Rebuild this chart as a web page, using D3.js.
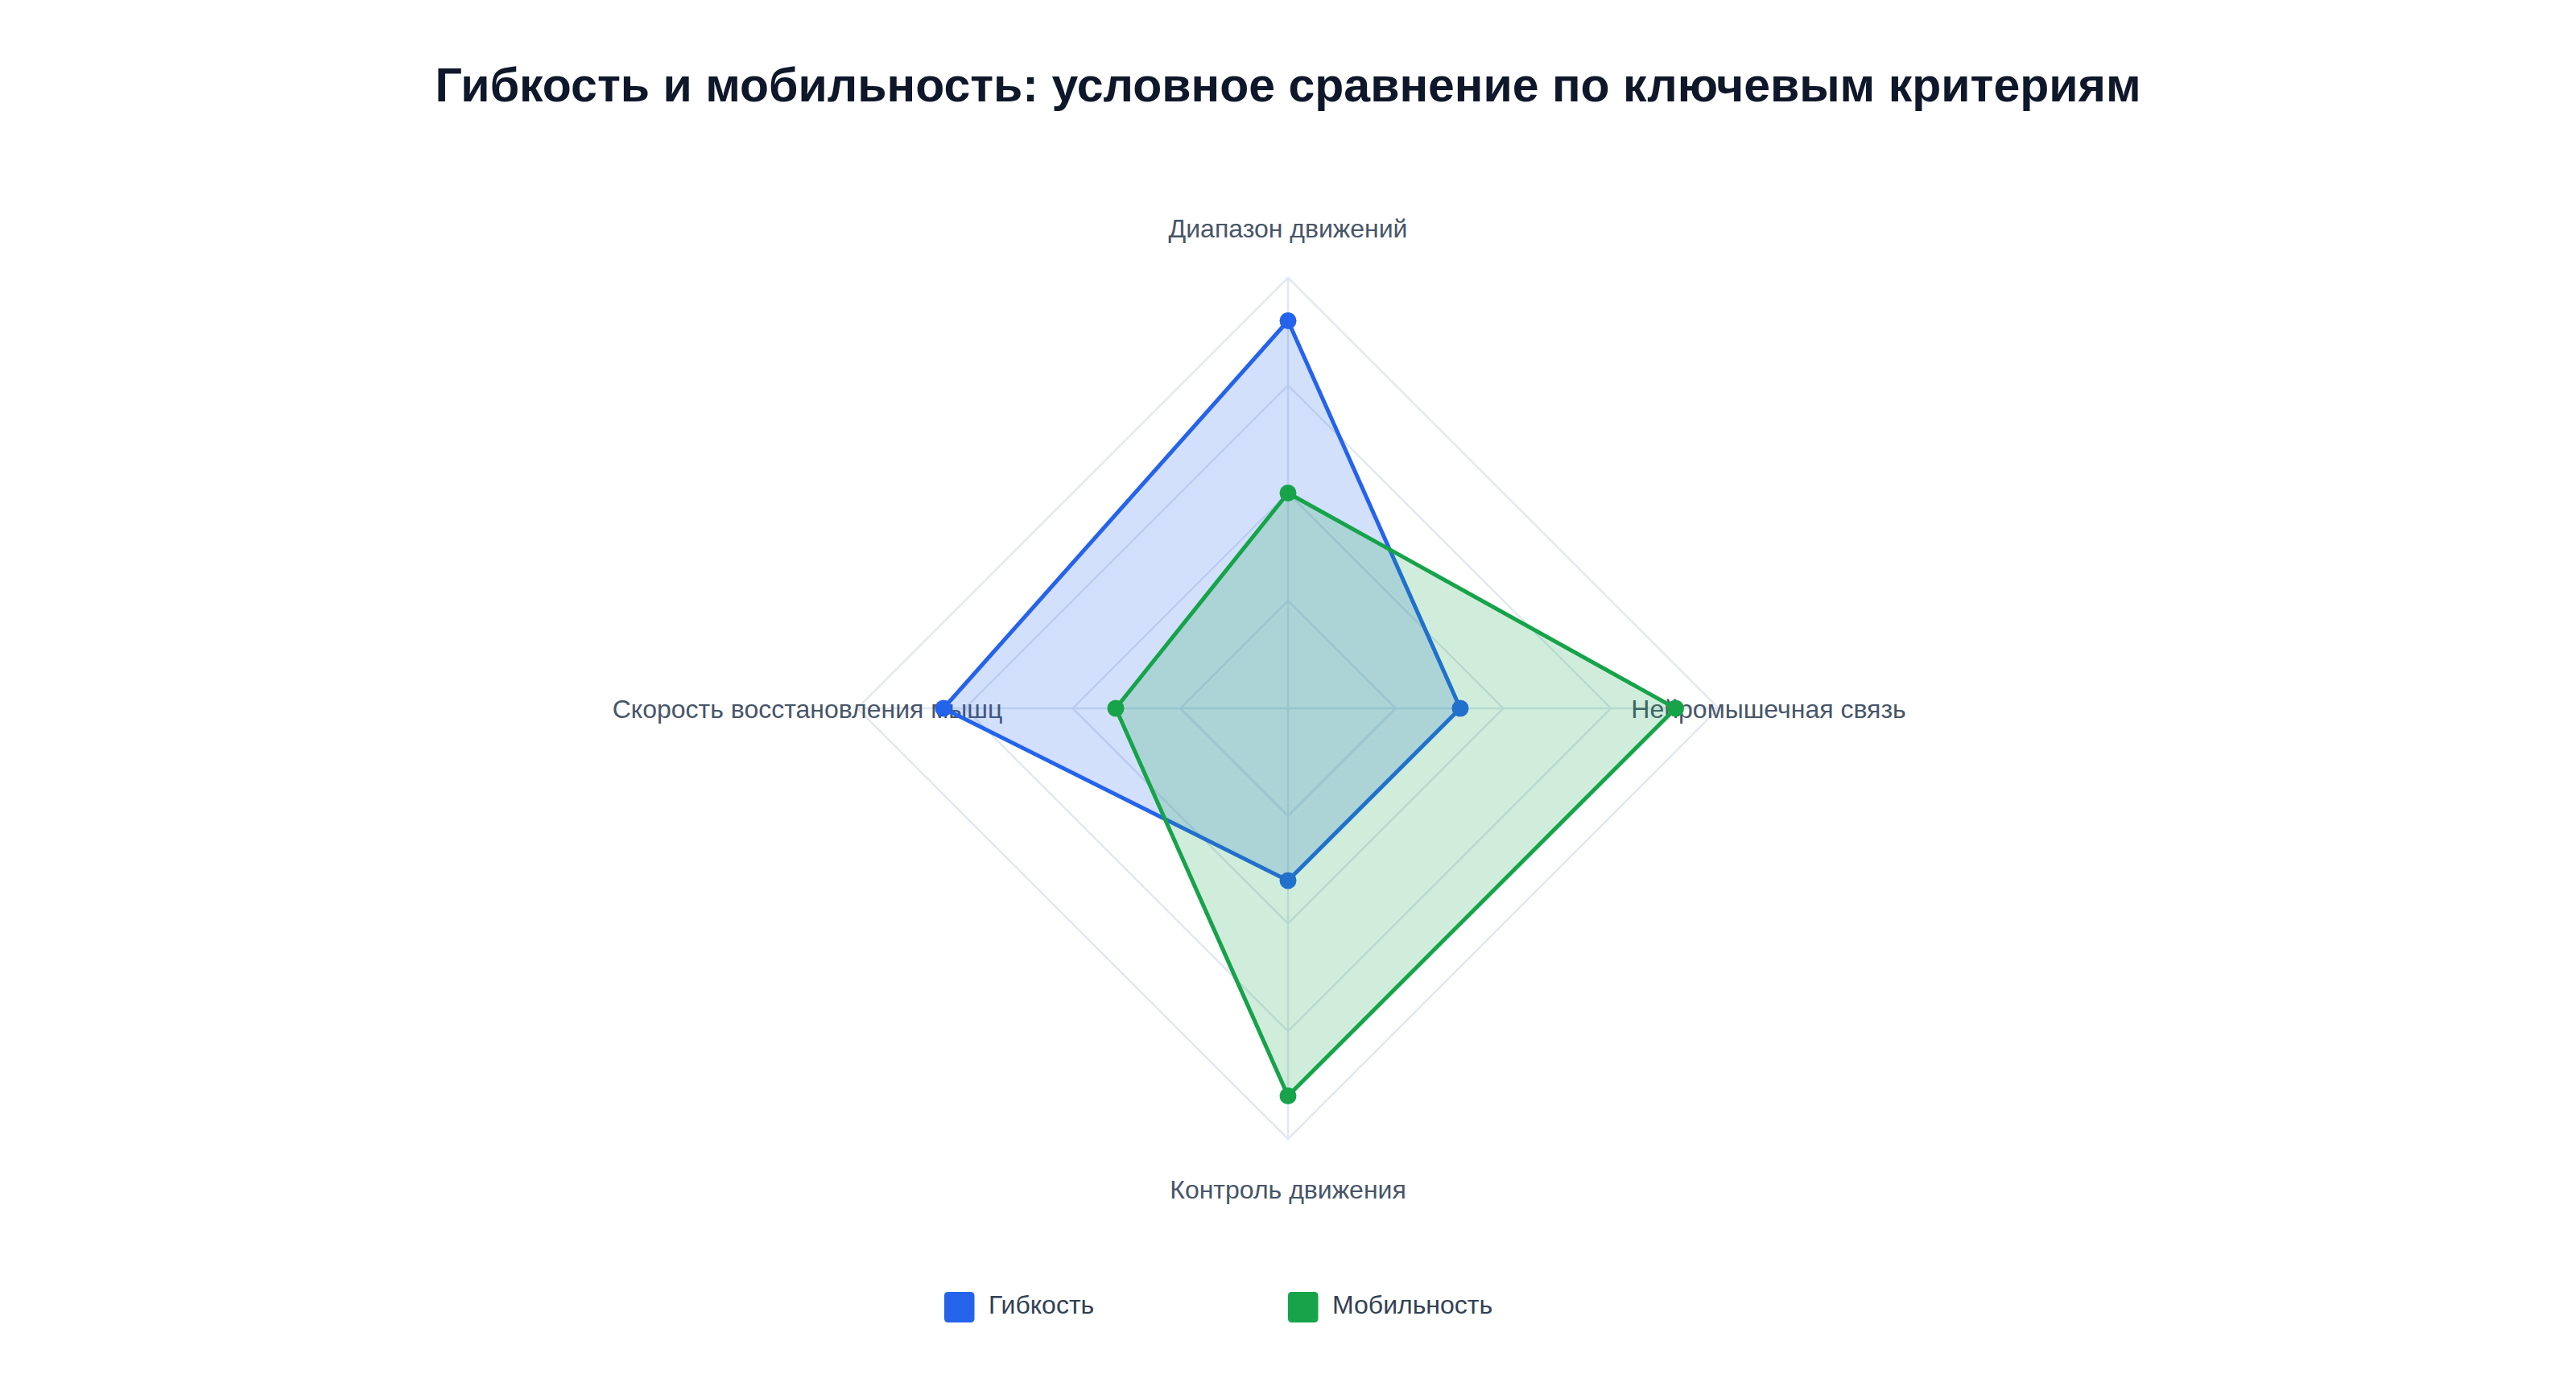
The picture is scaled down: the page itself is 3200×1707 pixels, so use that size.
<!DOCTYPE html>
<html>
<head>
<meta charset="utf-8">
<script src="https://cdn.jsdelivr.net/npm/d3@7"></script>
<style>
  body { margin: 0; background: #fff; }
  svg { display: block; }
</style>
</head>
<body>
<div id="chart"></div>
<script>
// Data
var criteria = ["Диапазон движений", "Нейромышечная связь", "Контроль движения", "Скорость восстановления мышц"];
var flexibility = [9, 4, 4, 8];
var mobility = [5, 9, 9, 4];
var seriesNames = ["Гибкость", "Мобильность"];
var ringTicks = [2.5, 5, 7.5, 10];

var svgWidth = 3200;
var svgHeight = 1707;
var cx = 1600, cy = 880, radius = 535;

var colors = ["#2563eb", "#16a34a"];
var fills = ["rgba(37,99,235,0.2)", "rgba(22,163,74,0.2)"];

var svg = d3.select("#chart")
  .append("svg")
  .attr("width", svgWidth)
  .attr("height", svgHeight);

// Title
svg.append("text")
  .attr("x", cx)
  .attr("y", 126)
  .attr("text-anchor", "middle")
  .attr("font-family", "Liberation Sans, Arial, sans-serif")
  .attr("font-weight", "bold")
  .attr("font-size", "59px")
  .attr("fill", "#0f172a")
  .text("Гибкость и мобильность: условное сравнение по ключевым критериям");

var chartGroup = svg.append("g")
  .attr("transform", `translate(${cx}, ${cy})`);

// Scales
var rScale = d3.scaleLinear().domain([0, 10]).range([0, radius]);
var angleOf = function(i) { return i * 2 * Math.PI / criteria.length; };

var radial = d3.lineRadial()
  .angle(function(d, i) { return angleOf(i); })
  .radius(function(d) { return rScale(d); })
  .curve(d3.curveLinearClosed);

// Grid rings
chartGroup.selectAll(".ring")
  .data(ringTicks)
  .enter()
  .append("path")
  .attr("class", "ring")
  .attr("d", function(t) { return radial(criteria.map(function() { return t; })); })
  .attr("fill", "none")
  .attr("stroke", "#e2e8f0")
  .attr("stroke-width", 2.5);

// Spokes
chartGroup.selectAll(".spoke")
  .data(criteria)
  .enter()
  .append("line")
  .attr("class", "spoke")
  .attr("x1", 0)
  .attr("y1", 0)
  .attr("x2", function(d, i) { return rScale(10) * Math.sin(angleOf(i)); })
  .attr("y2", function(d, i) { return -rScale(10) * Math.cos(angleOf(i)); })
  .attr("stroke", "#e2e8f0")
  .attr("stroke-width", 2.5);

// Axis labels
chartGroup.selectAll(".axisLabel")
  .data(criteria)
  .enter()
  .append("text")
  .attr("class", "axisLabel")
  .attr("x", function(d, i) { return (radius + 62) * Math.sin(angleOf(i)); })
  .attr("y", function(d, i) { return -(radius + 62) * Math.cos(angleOf(i)); })
  .attr("dy", "0.36em")
  .attr("text-anchor", "middle")
  .attr("font-family", "Liberation Sans, Arial, sans-serif")
  .attr("font-size", "32px")
  .attr("fill", "#475569")
  .text(function(d) { return d; });

// Datasets
var datasets = [flexibility, mobility];
datasets.forEach(function(values, k) {
  var g = chartGroup.append("g");
  g.append("path")
    .attr("d", radial(values))
    .attr("fill", fills[k])
    .attr("stroke", colors[k])
    .attr("stroke-width", 5)
    .attr("stroke-linejoin", "round");

  g.selectAll("circle")
    .data(values)
    .enter()
    .append("circle")
    .attr("cx", function(d, i) { return rScale(d) * Math.sin(angleOf(i)); })
    .attr("cy", function(d, i) { return -rScale(d) * Math.cos(angleOf(i)); })
    .attr("r", 10.5)
    .attr("fill", colors[k]);
});

// Legend
var legendX = [1173, 1600];
var legend = svg.selectAll(".legend")
  .data(seriesNames)
  .enter()
  .append("g")
  .attr("class", "legend")
  .attr("transform", function(d, i) { return `translate(${legendX[i]}, 1624)`; });

legend.append("rect")
  .attr("x", 0)
  .attr("y", -19)
  .attr("width", 37.5)
  .attr("height", 38)
  .attr("rx", 4.5)
  .attr("fill", function(d, i) { return colors[i]; });

legend.append("text")
  .attr("x", 55)
  .attr("y", 8)
  .attr("font-family", "Liberation Sans, Arial, sans-serif")
  .attr("font-size", "32px")
  .attr("fill", "#334155")
  .text(function(d) { return d; });
</script>
</body>
</html>
